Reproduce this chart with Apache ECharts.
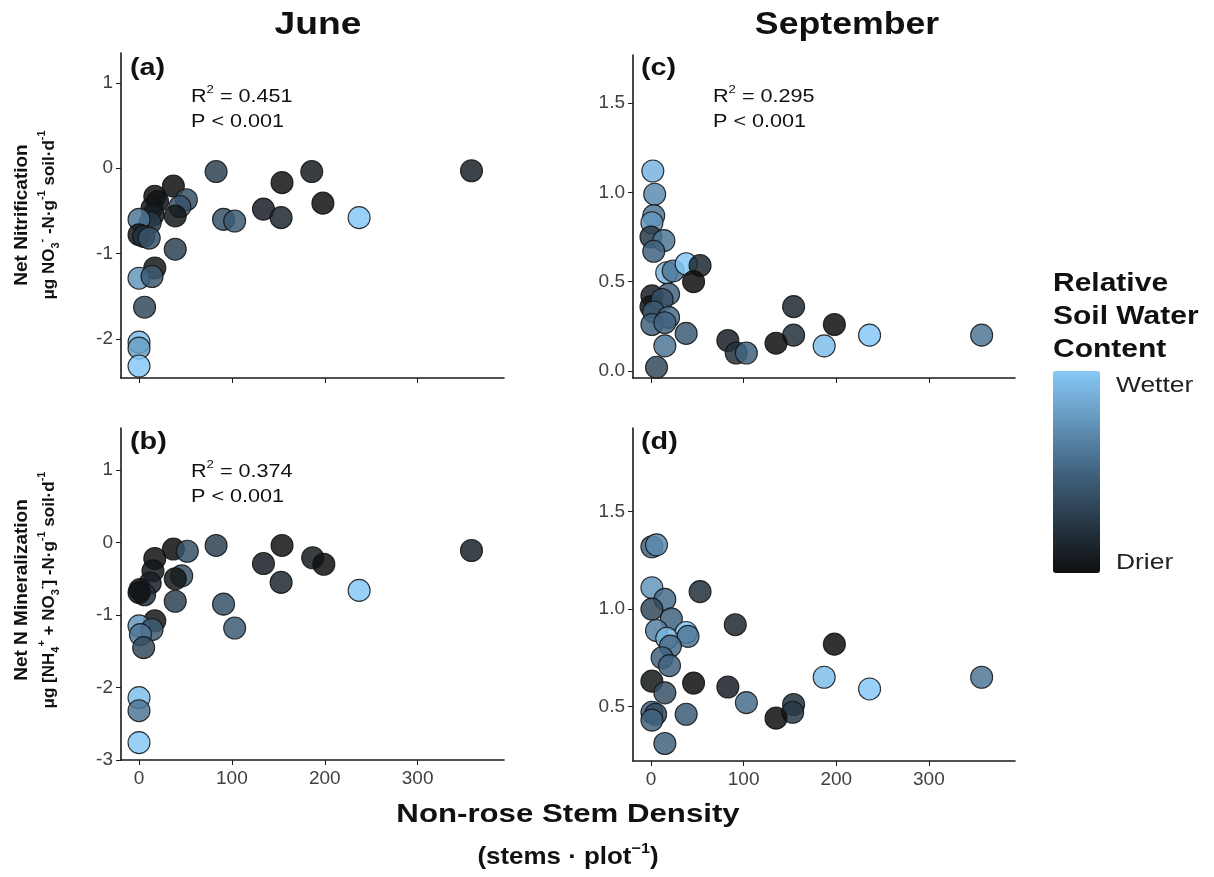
<!DOCTYPE html>
<html>
<head>
<meta charset="utf-8">
<script src="https://cdn.jsdelivr.net/npm/echarts@6/dist/echarts.min.js"></script>
<style>
  html, body { margin: 0; padding: 0; background: #fff; }
  #chart { width: 1214px; height: 877px; }
</style>
</head>
<body>
<div id="chart"></div>
<script>
// June - net nitrification (a)
const stemsA = [83, 358, 186, 154, 37, 198, 134, 153, 237, 91, 103, 51, 44, 39, 39, 17, 20, 14, 15, 12, 0, 0, 5, 11, 17, 0, 14, 6, 0, 0, 0]
const nitrifA = [-0.04, -0.03, -0.04, -0.17, -0.21, -0.41, -0.48, -0.58, -0.58, -0.6, -0.62, -0.37, -0.45, -0.56, -0.95, -0.33, -0.39, -0.47, -0.55, -0.64, -0.6, -0.78, -0.8, -0.82, -1.17, -1.29, -1.27, -1.63, -2.04, -2.11, -2.32]
const waterA = [0.3, 0.12, 0.08, 0.03, 0, 0.02, 0.1, 0.15, 1, 0.4, 0.45, 0.4, 0.4, 0.05, 0.3, 0.02, 0.03, 0.05, 0.1, 0.25, 0.6, 0.05, 0.2, 0.4, 0.05, 0.75, 0.45, 0.35, 0.95, 0.8, 1]

// June - net N mineralization (b)
const stemsB = [83, 154, 37, 52, 358, 17, 187, 199, 134, 15, 46, 39, 153, 12, 1, 6, 0, 237, 39, 91, 103, 17, 0, 14, 1.5, 5, 0, 0, 0]
const minerB = [-0.04, -0.04, -0.09, -0.12, -0.11, -0.22, -0.21, -0.3, -0.29, -0.39, -0.46, -0.5, -0.55, -0.56, -0.65, -0.72, -0.69, -0.66, -0.81, -0.85, -1.18, -1.08, -1.15, -1.2, -1.27, -1.45, -2.14, -2.32, -2.76]
const waterB = [0.3, 0.03, 0, 0.4, 0.12, 0.02, 0.08, 0.02, 0.1, 0.05, 0.4, 0.05, 0.15, 0.1, 0.05, 0.2, 0.03, 1, 0.3, 0.4, 0.45, 0.05, 0.75, 0.45, 0.6, 0.35, 0.95, 0.6, 1]

// September - net nitrification (c)
const stemsC = [2, 4, 3, 1, 0, 14, 3, 17, 24, 38, 53, 46, 19, 1, 0, 12, 3, 19, 1, 15, 38, 15, 6, 154, 154, 198, 135, 187, 236, 357, 83, 92, 103]
const nitrifC = [1.12, 0.99, 0.87, 0.83, 0.75, 0.73, 0.67, 0.55, 0.56, 0.6, 0.59, 0.5, 0.43, 0.42, 0.36, 0.4, 0.33, 0.3, 0.26, 0.27, 0.21, 0.14, 0.02, 0.36, 0.2, 0.26, 0.155, 0.14, 0.2, 0.2, 0.17, 0.1, 0.1]
const waterC = [0.9, 0.7, 0.6, 0.75, 0.25, 0.6, 0.5, 0.9, 0.6, 1, 0.15, 0, 0.5, 0.1, 0.05, 0.4, 0.45, 0.55, 0.5, 0.5, 0.45, 0.6, 0.35, 0.15, 0.2, 0, 0, 0.95, 1, 0.6, 0.1, 0.2, 0.5]

// September - net N mineralization (d)
const stemsD = [1, 6, 1, 15, 1, 53, 22, 6, 38, 40, 17, 21, 12, 20, 91, 198, 187, 236, 357, 1, 46, 83, 15, 103, 154, 153, 135, 1, 5, 1, 38, 15]
const minerD = [1.32, 1.33, 1.11, 1.05, 1.0, 1.09, 0.95, 0.89, 0.88, 0.86, 0.85, 0.81, 0.75, 0.71, 0.92, 0.82, 0.65, 0.59, 0.65, 0.63, 0.62, 0.6, 0.57, 0.52, 0.51, 0.47, 0.44, 0.47, 0.46, 0.43, 0.46, 0.31]
const waterD = [0.5, 0.7, 0.75, 0.55, 0.35, 0.2, 0.5, 0.65, 1, 0.6, 0.9, 0.55, 0.5, 0.5, 0.15, 0, 0.95, 1, 0.6, 0.05, 0, 0.1, 0.4, 0.55, 0.2, 0.25, 0, 0.5, 0.35, 0.5, 0.45, 0.5]

const xTicks = [0, 100, 200, 300]

const FONT = '"Liberation Sans", Arial, sans-serif'
const axisColor = '#1a1a1a'
const SX = 1.2 // the reference text is stretched sideways

const zip = (xs, ys, ws) => xs.map((x, i) => [x, ys[i], ws[i]])

const xAxisFor = (gridIndex, showLabel) => ({
    type: 'value', gridIndex, min: -19.4, max: 393,
    splitLine: { show: false },
    axisLine: { onZero: false, lineStyle: { color: axisColor, width: 1.6 } },
    axisTick: { length: 5, lineStyle: { color: axisColor }, customValues: xTicks },
    axisLabel: { show: showLabel, customValues: xTicks, fontSize: 19, color: '#404040', fontFamily: FONT, margin: 9 }
})

const yAxisFor = (gridIndex, min, max, ticks, dec) => ({
    type: 'value', gridIndex, min, max,
    splitLine: { show: false },
    axisLine: { show: true, onZero: false, lineStyle: { color: axisColor, width: 1.6 } },
    axisTick: { show: true, length: 5, lineStyle: { color: axisColor }, customValues: ticks },
    axisLabel: {
        customValues: ticks, fontSize: 19, color: '#404040', fontFamily: FONT, margin: 8,
        formatter: v => dec ? v.toFixed(1) : String(v)
    }
})

const scatter = (idx, data) => ({
    type: 'scatter', xAxisIndex: idx, yAxisIndex: idx, data,
    symbolSize: 22,
    itemStyle: { opacity: 0.85, borderColor: '#111', borderWidth: 1.1 }
})

const txt = (x, y, text, opts, sx) => ({
    type: 'text', x, y, scaleX: sx === undefined ? SX : sx,
    style: Object.assign({ text, fill: '#111', font: '17px ' + FONT, textAlign: 'left', textVerticalAlign: 'middle' }, opts || {})
})

const richFor = (size, weight) => ({
    t: { fontSize: size, fontFamily: FONT, fontWeight: weight, fill: '#111', lineHeight: size + 8 },
    sup: { fontSize: Math.round(size * 0.62), fontFamily: FONT, fontWeight: weight, fill: '#111', verticalAlign: 'top', lineHeight: size + 8 },
    sub: { fontSize: Math.round(size * 0.62), fontFamily: FONT, fontWeight: weight, fill: '#111', verticalAlign: 'bottom', lineHeight: size + 8 }
})

const rotated = el => Object.assign(el, { rotation: Math.PI / 2 })

const chart = echarts.init(document.getElementById('chart'))

chart.setOption({
    animation: false,
    backgroundColor: '#fff',
    grid: [
        { left: 121, top: 53, width: 383, height: 325 },
        { left: 121, top: 428, width: 383, height: 332 },
        { left: 633, top: 55, width: 382, height: 323 },
        { left: 633, top: 428, width: 382, height: 333 }
    ],
    xAxis: [xAxisFor(0, false), xAxisFor(1, true), xAxisFor(2, false), xAxisFor(3, true)],
    yAxis: [
        yAxisFor(0, -2.46, 1.35, [-2, -1, 0, 1], false),
        yAxisFor(1, -3, 1.58, [-3, -2, -1, 0, 1], false),
        yAxisFor(2, -0.04, 1.77, [0, 0.5, 1, 1.5], true),
        yAxisFor(3, 0.22, 1.93, [0.5, 1, 1.5], true)
    ],
    visualMap: {
        type: 'continuous', min: 0, max: 1, dimension: 2,
        seriesIndex: [0, 1, 2, 3],
        calculable: false, hoverLink: false,
        left: 1053, top: 371, padding: 0,
        itemWidth: 47, itemHeight: 202,
        text: ['', ''], showLabel: false,
        inRange: { color: ['#0e0e0e', '#41637f', '#86c8f6'] }
    },
    series: [
        scatter(0, zip(stemsA, nitrifA, waterA)),
        scatter(1, zip(stemsB, minerB, waterB)),
        scatter(2, zip(stemsC, nitrifC, waterC)),
        scatter(3, zip(stemsD, minerD, waterD))
    ],
    graphic: [
        txt(318, 25, 'June', { font: 'bold 31px ' + FONT, textAlign: 'center' }),
        txt(847, 25, 'September', { font: 'bold 31px ' + FONT, textAlign: 'center' }, 1.15),

        txt(130, 68, '(a)', { font: 'bold 24px ' + FONT }),
        txt(130, 442, '(b)', { font: 'bold 24px ' + FONT }),
        txt(641, 68, '(c)', { font: 'bold 24px ' + FONT }),
        txt(641, 442, '(d)', { font: 'bold 24px ' + FONT }),

        txt(191, 97, '{t|R}{sup|2}{t| = 0.451}', { rich: richFor(18, 'normal') }),
        txt(191, 122, 'P < 0.001', { font: '18px ' + FONT }),
        txt(191, 472, '{t|R}{sup|2}{t| = 0.374}', { rich: richFor(18, 'normal') }),
        txt(191, 497, 'P < 0.001', { font: '18px ' + FONT }),
        txt(713, 97, '{t|R}{sup|2}{t| = 0.295}', { rich: richFor(18, 'normal') }),
        txt(713, 122, 'P < 0.001', { font: '18px ' + FONT }),

        // y axis titles
        rotated(txt(22, 215, 'Net Nitrification', { font: 'bold 19px ' + FONT, textAlign: 'center' }, 1)),
        rotated(txt(49, 215, '{t|μg NO}{sub|3}{sup|-}{t| -N·g}{sup|-1}{t| soil·d}{sup|-1}',
            { font: 'bold 17px ' + FONT, textAlign: 'center', rich: richFor(17, 'bold') }, 1)),
        rotated(txt(22, 590, 'Net N Mineralization', { font: 'bold 19px ' + FONT, textAlign: 'center' }, 1)),
        rotated(txt(49, 590, '{t|μg [NH}{sub|4}{sup|+}{t| + NO}{sub|3}{sup|-}{t|] -N·g}{sup|-1}{t| soil·d}{sup|-1}',
            { font: 'bold 17px ' + FONT, textAlign: 'center', rich: richFor(17, 'bold') }, 1)),

        // x axis title
        txt(568, 815, 'Non-rose Stem Density', { font: 'bold 26px ' + FONT, textAlign: 'center' }),
        txt(568, 857, '{t|(stems · plot}{sup|−1}{t|)}', { font: 'bold 24px ' + FONT, textAlign: 'center', rich: richFor(24, 'bold') }, 1.08),

        // legend title and labels
        txt(1053, 284, 'Relative', { font: 'bold 25px ' + FONT }),
        txt(1053, 317, 'Soil Water', { font: 'bold 25px ' + FONT }),
        txt(1053, 350, 'Content', { font: 'bold 25px ' + FONT }),
        txt(1116, 386, 'Wetter', { font: '22px ' + FONT, fill: '#222' }),
        txt(1116, 563, 'Drier', { font: '22px ' + FONT, fill: '#222' })
    ]
})
</script>
</body>
</html>
